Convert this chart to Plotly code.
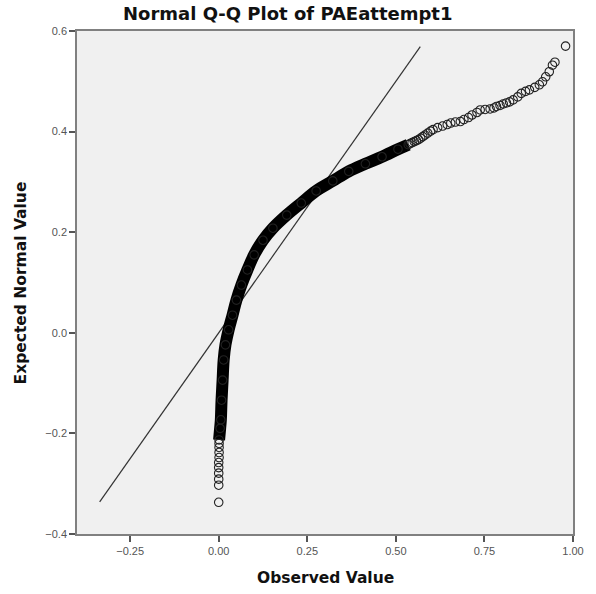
import plotly.graph_objects as go

# Sparse lower tail (observed, expected)
low_obs = [0.000, 0.000, 0.000, 0.000, 0.000, 0.000, 0.001, 0.001, 0.001, 0.001]
low_exp = [-0.337, -0.303, -0.291, -0.279, -0.268, -0.258, -0.248, -0.238, -0.228, -0.220]

# Dense central band (observed, expected)
mid_obs = [0.001, 0.004, 0.006, 0.008, 0.011, 0.014, 0.019, 0.028, 0.039, 0.050, 0.064,
           0.081, 0.100, 0.125, 0.153, 0.192, 0.233, 0.275, 0.322, 0.367, 0.414, 0.461,
           0.506, 0.535]
mid_exp = [-0.213, -0.190, -0.173, -0.134, -0.094, -0.054, -0.024, 0.006, 0.035, 0.065, 0.095,
           0.125, 0.155, 0.184, 0.208, 0.234, 0.258, 0.282, 0.302, 0.321, 0.336, 0.350,
           0.365, 0.374]

# Sparse upper tail
high_obs = [0.540, 0.546, 0.552, 0.558, 0.564, 0.570, 0.576, 0.582, 0.590, 0.598, 0.605,
            0.618, 0.632, 0.645, 0.655, 0.668, 0.682, 0.692, 0.705, 0.715,
            0.729, 0.738, 0.752, 0.766, 0.777, 0.784, 0.794, 0.803, 0.812, 0.821, 0.831,
            0.844, 0.854, 0.866, 0.877, 0.892, 0.905, 0.914, 0.923, 0.933, 0.942, 0.949, 0.979]
high_exp = [0.376, 0.378, 0.380, 0.382, 0.384, 0.387, 0.390, 0.393, 0.397, 0.401, 0.404,
            0.408, 0.411, 0.414, 0.417, 0.419, 0.420, 0.424, 0.428, 0.433,
            0.438, 0.443, 0.444, 0.445, 0.447, 0.450, 0.452, 0.455, 0.457, 0.459, 0.463,
            0.469, 0.476, 0.480, 0.483, 0.488, 0.493, 0.499, 0.509, 0.519, 0.532, 0.538, 0.570]

# Reference line y = x
ref_x = [-0.336, 0.569]
ref_y = [-0.336, 0.569]

x_ticks = [-0.25, 0.00, 0.25, 0.50, 0.75, 1.00]
y_ticks = [-0.4, -0.2, 0.0, 0.2, 0.4, 0.6]

marker = dict(symbol="circle-open", size=8.5, color="#222", line=dict(width=1.1, color="#222"))

fig = go.Figure()
fig.add_trace(go.Scatter(x=ref_x, y=ref_y, mode="lines",
                         line=dict(color="#333", width=1.2), showlegend=False, hoverinfo="skip"))
fig.add_trace(go.Scatter(x=mid_obs, y=mid_exp, mode="lines+markers",
                         line=dict(color="#000", width=12, shape="spline"),
                         marker=marker, showlegend=False))
fig.add_trace(go.Scatter(x=low_obs, y=low_exp, mode="markers", marker=marker, showlegend=False))
fig.add_trace(go.Scatter(x=high_obs, y=high_exp, mode="markers", marker=marker, showlegend=False))

axis_common = dict(showgrid=False, zeroline=False, showline=True, mirror=True,
                   linecolor="#808080", linewidth=1.5, ticks="outside", ticklen=6,
                   tickwidth=1.5, tickcolor="#555",
                   tickfont=dict(family="Liberation Sans, Arial", size=11, color="#555"))

title_font = "DejaVu Sans, Liberation Sans, Arial"

fig.update_layout(
    width=596, height=594,
    margin=dict(l=77, r=14, t=31, b=60),
    paper_bgcolor="white", plot_bgcolor="#f0f0f0",
    xaxis=dict(range=[-0.4, 1.0], tickvals=x_ticks, tickformat=".2f", **axis_common),
    yaxis=dict(range=[-0.4, 0.6], tickvals=y_ticks, tickformat=".1f", **axis_common),
    annotations=[
        dict(text="<b>Normal Q-Q Plot of PAEattempt1</b>", xref="paper", yref="paper",
             x=0.424, y=1.034, xanchor="center", yanchor="middle", showarrow=False,
             font=dict(family=title_font, size=18, color="#111")),
        dict(text="<b>Observed Value</b>", xref="paper", yref="paper",
             x=0.5, y=-0.0875, xanchor="center", yanchor="middle", showarrow=False,
             font=dict(family=title_font, size=15.5, color="#111")),
        dict(text="<b>Expected Normal Value</b>", xref="paper", yref="paper",
             x=-0.113, y=0.5, xanchor="center", yanchor="middle", showarrow=False,
             textangle=-90,
             font=dict(family=title_font, size=15.5, color="#111")),
    ],
)

fig.write_html("out.html")
